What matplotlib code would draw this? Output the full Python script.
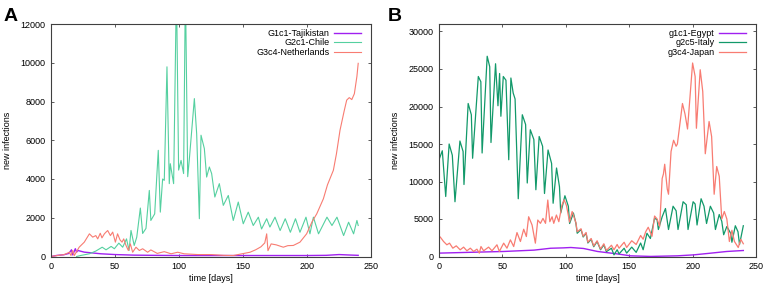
import matplotlib
matplotlib.use('Agg')
import matplotlib.pyplot as plt

# ---- panel A data (day, new infections) ----
tjk_day = [0, 5, 10, 14, 16, 17, 19, 20, 21, 26, 39, 50, 65, 80, 100, 150, 200, 215, 225, 232, 240]
tjk_val = [0, 60, 90, 160, 345, 80, 400, 225, 310, 225, 140, 100, 70, 60, 50, 50, 50, 60, 100, 80, 60]

chl_day = [20, 23, 30, 35, 40, 43, 47, 49.5, 53, 56, 59, 61, 62.5, 65, 67, 69.8, 71.6, 74.2, 76.8, 78, 81,
           83.8, 85.4, 87.2, 88.5, 90.6, 92.4, 93.2, 95.8, 98, 99.7, 101.6, 103.6, 105, 106.8, 108, 112,
           113.8, 115.9, 117.2, 119.8, 121.6, 123.7, 125.5, 128, 131.5, 134.6, 138.5, 142.4, 146.3, 150.2,
           154.1, 158, 162, 164.5, 168.5, 171, 175, 179, 183, 187, 191, 194.5, 199.2, 202.3, 205, 209,
           215.6, 219.5, 223.4, 228.6, 232.5, 236.4, 239, 240]
chl_val = [0, 50, 140, 280, 480, 345, 520, 400, 690, 480, 910, 310, 1345, 570, 1000, 2500, 1190, 1450, 3410,
           1860, 2200, 5480, 2290, 4000, 3930, 9790, 3760, 4790, 3760, 14000, 4460, 4960, 4280, 14000, 4120,
           4960, 8150, 6340, 1950, 6260, 5570, 4100, 4620, 4280, 3070, 3760, 2640, 3150, 1860, 2810, 1690,
           2290, 1600, 2030, 1420, 1950, 1520, 2030, 1340, 1950, 1250, 1950, 1250, 2030, 1170, 2030, 1170,
           2030, 1600, 2030, 1080, 1770, 1170, 1860, 1600]

nld_day = [0, 5, 10.4, 14.3, 15.6, 17, 18.2, 22, 26, 30, 32.6, 35, 36.5, 38.5, 39.8, 41.7, 43, 44.3, 46.4,
           48.2, 50.3, 52, 53.9, 55.5, 56.8, 58.6, 60.4, 62, 63.8, 66.4, 69, 71.6, 75.5, 78, 83, 88.5, 93.8,
           99, 104, 114.6, 125, 135, 142.4, 150, 155.5, 160, 164, 167, 168.5, 169.5, 172, 176, 181.5, 185,
           189.3, 194.5, 199.7, 204, 207.6, 212.8, 216, 220.6, 223, 225.8, 229, 231, 233, 235, 237, 239, 240]
nld_val = [0, 50, 100, 220, 50, 310, 50, 480, 740, 1170, 1000, 1080, 910, 1200, 960, 1170, 1260, 1340,
           1080, 1260, 740, 1170, 860, 740, 910, 570, 310, 650, 220, 480, 310, 400, 220, 340, 160, 250, 140,
           220, 140, 100, 100, 60, 50, 150, 220, 350, 500, 700, 1170, 300, 650, 600, 480, 560, 570, 740,
           1170, 1800, 2200, 2980, 3700, 4450, 5300, 6520, 7500, 8070, 8200, 8100, 8400, 9300, 9970]

# ---- panel B data ----
egy_day = [0, 25, 51, 75, 88, 98, 104, 114, 125, 140, 151, 167, 188, 201, 214, 227, 240]
egy_val = [450, 560, 670, 850, 1100, 1150, 1200, 1070, 670, 360, 90, 10, 90, 220, 440, 670, 800]

ita_day = [0, 2.6, 5.3, 8, 10.5, 12.6, 16.5, 19, 19.7, 23, 25.5, 26.5, 31, 33, 34, 38, 40, 41, 44.6, 46.5,
           47.8, 48.8, 50.7, 52.8, 55, 56.7, 58.5, 60, 62.5, 65.7, 68.3, 69.6, 72, 74.8, 76.4, 79, 81.7,
           83.2, 86, 88.8, 90, 92.7, 95, 96, 99.3, 102, 103, 106, 108, 109, 112, 113.7, 116, 117.4, 120,
           122, 124.7, 127.4, 130, 132, 136, 138, 140.5, 142, 146, 148, 152, 155.5, 159, 161, 164, 166.7,
           170, 172, 173, 176, 178.6, 181, 184.6, 187, 188.5, 192.5, 195, 196.4, 200.4, 202, 203.5, 206.7,
           209, 211, 214, 216.6, 218, 221, 223, 224.5, 227, 230, 231, 233.7, 235.8, 237, 240]
ita_val = [12900, 14100, 8000, 15000, 13500, 7300, 15400, 14000, 9600, 20400, 18900, 13100, 24000, 23300,
           13800, 26700, 25300, 15200, 25700, 20100, 24400, 18700, 24000, 23500, 12900, 23800, 21800, 21000,
           7700, 18900, 17600, 9800, 16900, 15600, 8900, 16000, 14700, 8400, 14200, 12400, 7100, 11800, 9300,
           5800, 8100, 6700, 4400, 5800, 4400, 3100, 3600, 2600, 3100, 1800, 2300, 1300, 2000, 900, 1550, 650,
           1100, 220, 900, 350, 1100, 450, 1250, 550, 1800, 900, 3100, 2400, 5100, 4900, 3600, 5300, 6400,
           3600, 6700, 6100, 3600, 7300, 6900, 3600, 7300, 7000, 4200, 7700, 6700, 4400, 6700, 5800, 3600,
           5600, 4700, 2900, 4000, 3100, 1900, 4100, 3300, 1600, 4100]

jpn_day = [0, 1, 3.6, 6.2, 8.3, 10.9, 13.6, 16.7, 19.4, 22, 24.7, 27.3, 29.9, 31.8, 33.1, 35.2, 39.1, 41.8,
           45.7, 47.6, 51, 53.6, 56.3, 58.9, 61.5, 64.2, 66.8, 68.9, 70.7, 73.4, 76, 77.9, 80, 82, 84, 85.8,
           87.4, 89.2, 90.5, 92.6, 94.5, 97, 98.7, 100.5, 103, 105, 108, 109, 112, 113.7, 116, 117.4, 120, 122,
           124.7, 127.4, 130, 132, 136, 138, 140.5, 142, 146, 148, 152, 155.5, 159, 161, 163, 165, 168, 170,
           172, 174, 176, 177, 178, 180, 181, 183, 185, 187, 188, 192, 194, 196, 200, 202, 203, 206, 208,
           210, 213, 215, 217, 219, 221, 223, 225, 227, 229, 231, 233, 236, 238, 240]
jpn_val = [2700, 2590, 2000, 1560, 1780, 1110, 1420, 890, 1250, 760, 1110, 670, 980, 450, 1330, 760, 1250, 760,
           1560, 670, 1780, 1110, 2220, 1330, 3190, 2000, 3640, 2660, 5300, 4200, 1780, 4860, 4420, 5080, 4420,
           7530, 4640, 5300, 4420, 5530, 4640, 6870, 7560, 6800, 4600, 6000, 4500, 3300, 3700, 2700, 3200, 1900,
           2400, 1400, 2100, 1000, 1700, 800, 1500, 900, 1600, 1100, 1900, 1200, 2100, 1600, 2800, 2300, 3300,
           3900, 2700, 5400, 5000, 4000, 10400, 11000, 12300, 9000, 8300, 14000, 15500, 14700, 15000, 20400,
           19000, 17000, 25800, 24000, 17100, 24900, 22000, 13700, 18000, 16000, 8300, 12000, 10700, 5000,
           6000, 5000, 2000, 3500, 2000, 1200, 2300, 1700]

purple = '#a020f0'
green_light = '#55d0a0'
green_dark = '#12996a'
salmon = '#f87c72'

plt.rcParams['font.family'] = ['Liberation Sans', 'DejaVu Sans']
fs = 6.5

fig = plt.figure(figsize=(7.68, 2.86), dpi=100)


def style_axes(ax, ymax, yticks, w, h):
    ax.set_xlim(0, 250)
    ax.set_ylim(0, ymax)
    ax.set_xticks([0, 50, 100, 150, 200, 250])
    ax.set_yticks(yticks)
    ax.tick_params(direction='in', top=True, right=True, length=2.5, width=0.6,
                   labelsize=fs, pad=4, color='#404040')
    for s in ax.spines.values():
        s.set_color('#404040')
        s.set_linewidth(0.8)
    ax.set_xlabel('time [days]', fontsize=fs, labelpad=2)
    ax.set_ylabel('new infections', fontsize=fs, labelpad=6)
    # legend: text then line sample, right aligned, like gnuplot
    ax.legend(loc='upper right', bbox_to_anchor=(1 - 10 / w, 1 - 5 / h), markerfirst=False,
              frameon=False, fontsize=fs, handlelength=3.0, handletextpad=0.5,
              labelspacing=0.05, borderaxespad=0, borderpad=0)


# A
axA = fig.add_axes([51 / 768, 1 - 256.5 / 286, 320 / 768, 232.5 / 286])
axA.plot(tjk_day, tjk_val, color=purple, lw=1.0, label='G1c1-Tajikistan')
axA.plot(chl_day, chl_val, color=green_light, lw=0.8, label='G2c1-Chile')
axA.plot(nld_day, nld_val, color=salmon, lw=0.8, label='G3c4-Netherlands')
style_axes(axA, 12000, [0, 2000, 4000, 6000, 8000, 10000, 12000], 320, 232.5)
fig.text(4 / 768, 1 - 21 / 286, 'A', fontsize=14, fontweight='bold')

# B
axB = fig.add_axes([439 / 768, 1 - 256.5 / 286, 317 / 768, 232.5 / 286])
axB.plot(egy_day, egy_val, color=purple, lw=1.0, label='g1c1-Egypt')
axB.plot(ita_day, ita_val, color=green_dark, lw=0.9, label='g2c5-Italy')
axB.plot(jpn_day, jpn_val, color=salmon, lw=0.9, label='g3c4-Japan')
style_axes(axB, 31000, [0, 5000, 10000, 15000, 20000, 25000, 30000], 317, 232.5)
fig.text(388 / 768, 1 - 21 / 286, 'B', fontsize=14, fontweight='bold')

fig.savefig('out.png', dpi=100)
